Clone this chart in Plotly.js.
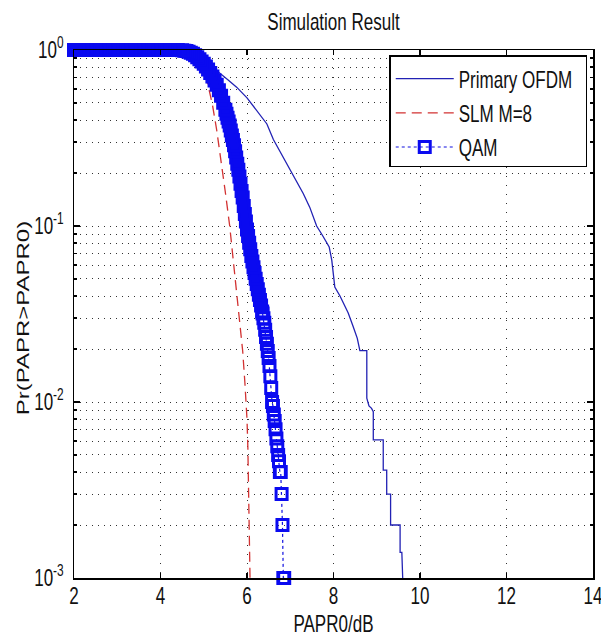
<!DOCTYPE html>
<html>
<head>
<meta charset="utf-8">
<script src="https://cdn.plot.ly/plotly-3.0.1.min.js"></script>
<style>
  html, body { margin: 0; padding: 0; background: #fff; }
  #plot { width: 601px; height: 637px; }
</style>
</head>
<body>
<div id="plot"></div>
<script>
// ---- Data ----
// Primary OFDM (thin solid blue)
var ofdmX = [2.0, 4.7, 4.85, 5.0, 5.15, 5.27, 5.38, 5.55, 5.76, 6.0, 6.2, 6.34, 6.46, 6.61, 6.8, 6.99, 7.15, 7.3, 7.45, 7.61, 7.75, 7.9, 7.96, 8.03, 8.15, 8.27, 8.34, 8.45, 8.55, 8.61, 8.77, 8.77, 8.82, 8.88, 8.92, 8.92, 9.15, 9.15, 9.23, 9.23, 9.32, 9.32, 9.54, 9.54, 9.58, 9.6];
var ofdmY = [1, 1, 0.97, 0.9, 0.82, 0.77, 0.735, 0.68, 0.615, 0.535, 0.46, 0.41, 0.38, 0.31, 0.255, 0.208, 0.18, 0.153, 0.128, 0.10, 0.088, 0.076, 0.064, 0.045, 0.04, 0.035, 0.032, 0.027, 0.023, 0.0196, 0.0196, 0.0105, 0.0095, 0.0092, 0.0088, 0.0061, 0.0061, 0.0041, 0.0041, 0.003, 0.003, 0.002, 0.002, 0.0014, 0.0014, 0.001];

// SLM M=8 (red dashed)
var slmX = [2.0, 4.4, 4.6, 4.8, 4.9, 5.0, 5.1, 5.2, 5.3, 5.4, 5.5, 5.6, 5.7, 5.75, 5.8, 5.85, 5.9, 5.95, 6.0, 6.02, 6.04, 6.05, 6.06, 6.07];
var slmY = [1, 1, 0.99, 0.93, 0.86, 0.76, 0.63, 0.49, 0.35, 0.24, 0.155, 0.10, 0.058, 0.045, 0.036, 0.027, 0.0195, 0.013, 0.008, 0.0055, 0.0033, 0.0022, 0.0015, 0.001];

// QAM (blue squares, dotted) - listed from the tail (right) back to x = 2
var qamX = [6.86, 6.84, 6.82, 6.8, 6.78, 6.76, 6.74, 6.72, 6.7, 6.68, 6.66, 6.64, 6.62, 6.6, 6.58, 6.56, 6.54, 6.52, 6.5, 6.48, 6.46, 6.44, 6.42, 6.4, 6.38, 6.36,
            6.35, 6.325, 6.3, 6.275, 6.25, 6.225, 6.2, 6.175, 6.15, 6.125, 6.1, 6.075, 6.05, 6.025, 6.0, 5.975, 5.95, 5.925, 5.9, 5.875, 5.85, 5.825, 5.8, 5.775, 5.75, 5.725, 5.7, 5.675, 5.65, 5.625, 5.6, 5.575, 5.55, 5.525, 5.5,
            5.45, 5.4, 5.35, 5.3, 5.25, 5.2, 5.15, 5.1, 5.05, 5.0, 4.95, 4.9, 4.85, 4.8, 4.75, 4.7, 4.65, 4.6, 4.55, 4.5,
            4.4, 4.3, 4.2, 4.1, 4.0, 3.9, 3.8, 3.7, 3.6, 3.5, 3.4, 3.3, 3.2, 3.1, 3.0, 2.9, 2.8, 2.7, 2.6, 2.5, 2.4, 2.3, 2.2, 2.1, 2.0];
var qamY = [0.001, 0.001, 0.002, 0.003, 0.004, 0.004, 0.0046, 0.005, 0.0056, 0.0062, 0.007, 0.0078, 0.0085, 0.0095, 0.010, 0.012, 0.014, 0.016, 0.0178, 0.0195, 0.0214, 0.0234, 0.0257, 0.0282, 0.0299, 0.0318,
            0.0327, 0.0353, 0.0380, 0.0407, 0.0437, 0.0468, 0.0501, 0.0541, 0.0582, 0.0628, 0.0676, 0.0738, 0.0804, 0.0877, 0.0955, 0.106, 0.117, 0.130, 0.145, 0.158, 0.174, 0.191, 0.209, 0.226, 0.245, 0.266, 0.288, 0.308, 0.327, 0.349, 0.372, 0.392, 0.412, 0.435, 0.457,
            0.501, 0.550, 0.590, 0.634, 0.670, 0.708, 0.741, 0.776, 0.805, 0.836, 0.861, 0.887, 0.910, 0.933, 0.951, 0.966, 0.977, 0.986, 0.991, 0.996,
            1, 1, 1, 1, 1, 1, 1, 1, 1, 1, 1, 1, 1, 1, 1, 1, 1, 1, 1, 1, 1, 1, 1, 1, 1];

var seriesNames = ['Primary OFDM', 'SLM M=8', 'QAM'];
var xTicks = [2, 4, 6, 8, 10, 12, 14];
var yTickVals = [0.001, 0.01, 0.1, 1];
var yTickText = ['10<sup>-3</sup>', '10<sup>-2</sup>', '10<sup>-1</sup>', '10<sup>0</sup>'];
var yMinorVals = [0.002, 0.003, 0.004, 0.005, 0.006, 0.007, 0.008, 0.009,
                  0.02, 0.03, 0.04, 0.05, 0.06, 0.07, 0.08, 0.09,
                  0.2, 0.3, 0.4, 0.5, 0.6, 0.7, 0.8, 0.9];
var chartTitle = 'Simulation Result';
var xTitle = 'PAPR0/dB';
var yTitle = 'Pr(PAPR>PAPR0)';

// ---- Styles ----
var FONT = 'Liberation Sans, Arial, Helvetica, sans-serif';
// where the markers pile up into a solid band they are drawn filled
var qamSymbols = qamY.map(function (v) { return v > 0.033 ? 'square' : 'square-open'; });

var traces = [
  { x: ofdmX, y: ofdmY, name: seriesNames[0], type: 'scatter', mode: 'lines',
    line: { color: '#2222b4', width: 1.3 } },
  { x: slmX, y: slmY, name: seriesNames[1], type: 'scatter', mode: 'lines',
    line: { color: '#d23232', width: 1.3, dash: '10px,6px' } },
  { x: qamX, y: qamY, name: seriesNames[2], type: 'scatter', mode: 'lines+markers',
    cliponaxis: false,
    line: { color: '#1010e0', width: 1.2, dash: 'dot' },
    marker: { symbol: qamSymbols, size: 11, color: '#0a0af0', line: { color: '#0a0af0', width: 3 } } }
];

var axisCommon = {
  showline: true, linecolor: '#000', linewidth: 1.5, mirror: 'ticks',
  ticks: 'inside', tickcolor: '#000', tickwidth: 1.2,
  showgrid: true, gridcolor: '#333', gridwidth: 1,
  zeroline: false, automargin: false,
  tickfont: { family: FONT, size: 24, color: '#111' }
};

var layout = {
  width: 601, height: 637,
  margin: { l: 74, r: 8, t: 50, b: 59 },
  paper_bgcolor: '#fff', plot_bgcolor: '#fff',
  font: { family: FONT, size: 24, color: '#111' },
  title: { text: chartTitle, x: 0.5, xref: 'paper', xanchor: 'center',
           y: 0.966, yref: 'container', yanchor: 'middle',
           font: { family: FONT, size: 24, color: '#111' } },
  xaxis: Object.assign({}, axisCommon, {
    range: [2, 14], tickvals: xTicks, ticklen: 5, griddash: '1px,8px',
    ticklabelstandoff: 0, ticklabeloverflow: 'allow',
    title: { text: xTitle, standoff: 6, font: { family: FONT, size: 24, color: '#111' } }
  }),
  yaxis: Object.assign({}, axisCommon, {
    type: 'log', range: [-3, 0], tickvals: yTickVals, ticktext: yTickText, ticklen: 6,
    griddash: '1px,5px', ticklabelstandoff: 4, ticklabeloverflow: 'allow',
    minor: { tickvals: yMinorVals, ticks: 'inside', ticklen: 3, tickcolor: '#000',
             showgrid: true, gridcolor: '#333', gridwidth: 1, griddash: '1px,5px' },
    title: { text: yTitle, standoff: 5, font: { family: FONT, size: 24, color: '#111' } }
  }),
  showlegend: true,
  legend: { x: 1 - 6 / 519, xanchor: 'right', y: 0.9905, yanchor: 'top',
            bgcolor: '#fff', bordercolor: '#000', borderwidth: 1.5,
            itemwidth: 58, tracegroupgap: 0,
            font: { family: FONT, size: 24, color: '#111' } }
};

// Condense text horizontally (the reference uses tall, narrow lettering)
function narrowTexts(gd, s) {
  var texts = gd.querySelectorAll('svg text');
  texts.forEach(function (t) {
    var r = t.getBoundingClientRect();
    if (!r.width) return;
    var m = t.parentNode.getScreenCTM();
    var tr = t.getAttribute('transform') || '';
    var anchor = t.getAttribute('text-anchor') || window.getComputedStyle(t).textAnchor || 'start';
    var sx;
    if (/rotate/.test(tr) || anchor === 'middle') sx = r.left + r.width / 2;
    else if (anchor === 'end') sx = r.right;
    else sx = r.left;
    var px = (sx - m.e) / m.a;
    t.setAttribute('transform', 'translate(' + px + ',0) scale(' + s + ',1) translate(' + (-px) + ',0) ' + tr);
  });
}

function shiftText(t, dx, dy) {
  var tr = t.getAttribute('transform') || '';
  t.setAttribute('transform', 'translate(' + dx + ',' + dy + ') ' + tr);
}

Plotly.newPlot('plot', traces, layout, { displayModeBar: false, staticPlot: true }).then(function (gd) {
  narrowTexts(gd, 0.71);
  var box = gd.getBoundingClientRect();
  // x tick labels sit a little closer to the axis
  gd.querySelectorAll('g.xtick text').forEach(function (t) { shiftText(t, 0, -4); });
  // y title centred where the reference has it
  var yt = gd.querySelector('text.ytitle');
  if (yt) {
    var r = yt.getBoundingClientRect();
    shiftText(yt, 23 - (r.left - box.left + r.width / 2), 318 - (r.top - box.top + r.height / 2));
  }
  // fit the legend box to the condensed text, keeping its right edge
  var leg = gd.querySelector('g.legend');
  if (leg) {
    var bg = leg.querySelector('rect.bg');
    var lr = bg.getBoundingClientRect();
    var maxR = 0;
    leg.querySelectorAll('text.legendtext').forEach(function (t) {
      maxR = Math.max(maxR, t.getBoundingClientRect().right);
    });
    if (maxR > 0) {
      var oldW = parseFloat(bg.getAttribute('width'));
      var newW = maxR - lr.left + 14;
      bg.setAttribute('width', newW);
      var oldH = parseFloat(bg.getAttribute('height'));
      bg.setAttribute('height', oldH - 4);
      var tm = /translate\(\s*([-\d.e]+)[ ,]+([-\d.e]+)\s*\)/.exec(leg.getAttribute('transform') || '');
      if (tm) {
        leg.setAttribute('transform', 'translate(' + (parseFloat(tm[1]) + oldW - newW) + ',' + tm[2] + ')');
      }
    }
  }
});
</script>
</body>
</html>
